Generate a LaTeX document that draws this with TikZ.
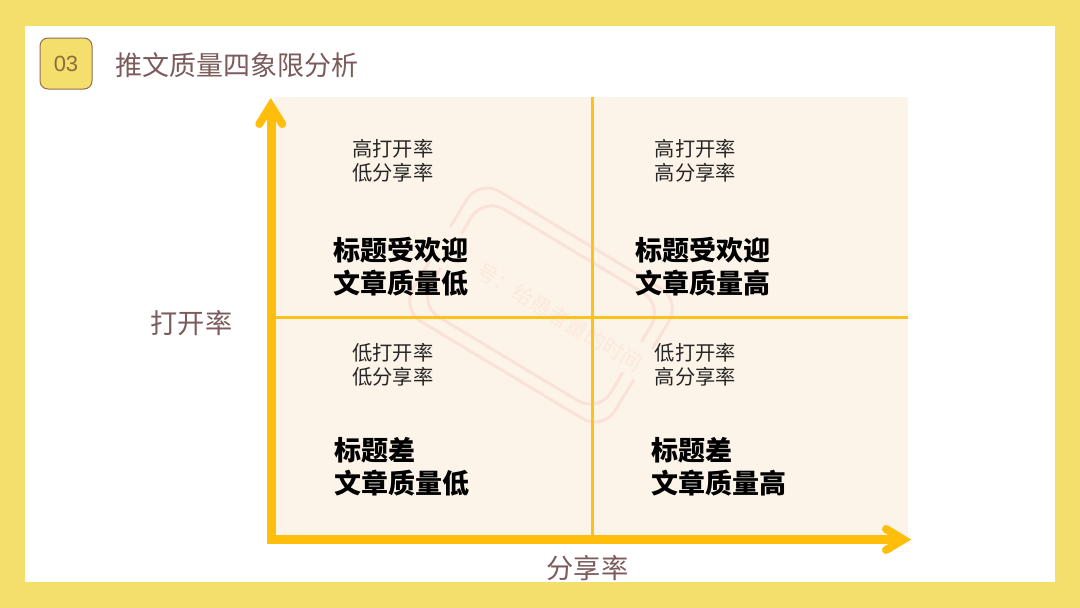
\documentclass[tikz,border=0pt]{standalone}
\usepackage{fontspec}
\setmainfont{Noto Sans CJK SC}
\setsansfont{Liberation Sans}
\definecolor{bgyellow}{HTML}{F4DE6C}
\definecolor{panel}{HTML}{FDF4E9}
\definecolor{axisc}{HTML}{FFBE0B}
\definecolor{gridc}{HTML}{FBC21C}
\definecolor{brown}{HTML}{7B5B5B}
\definecolor{numc}{HTML}{8C6D3A}
\definecolor{boxline}{HTML}{8F6F50}
\definecolor{wm}{HTML}{FBE2D8}
\definecolor{wmt}{HTML}{FBE9DE}
\tikzset{
  ax/.style={draw=axisc,line width=8.4pt},
  headc/.style={draw=axisc,line width=8pt,line cap=round,miter limit=10},
  gridl/.style={draw=gridc,line width=3.4pt},
  small/.style={anchor=west,align=left,inner sep=0pt,text=black!85,font=\fontsize{20.3}{24}\selectfont},
  big/.style={anchor=west,align=left,inner sep=0pt,text=black,font=\fontsize{27}{33}\selectfont\bfseries},
  label/.style={inner sep=0pt,text=brown,font=\fontsize{27.2}{32}\selectfont},
  wmline/.style={draw=wm,line width=3pt,rounded corners=24pt},
}
\begin{document}
\begin{tikzpicture}[x=1pt,y=-1pt]
\useasboundingbox (0,0) rectangle (1080,608);
\fill[bgyellow] (0,0) rectangle (1080,608);
\fill[white] (25,26) rectangle (1055,582);
\fill[panel] (275,97) rectangle (908,536);
% watermark
\begin{scope}[shift={(541,305)},rotate=-31]
  \draw[wmline] (-118,-20) -- (-118,-76) -- (118,-76) -- (118,-20);
  \draw[wmline] (118,16) -- (118,76) -- (-118,76) -- (-118,20);
  \draw[wmline] (-105,-20) -- (-105,-63) -- (105,-63) -- (105,-20);
  \draw[wmline] (105,16) -- (105,63) -- (-105,63) -- (-105,20);
\end{scope}
\node[rotate=-31,inner sep=0pt,text=wmt,font=\fontsize{21}{24}\selectfont] (wmtext) at (560,317) {号：给愚者量的时间};
% grid
\coordinate (gt) at (592.3,97);
\coordinate (gb) at (592.3,536);
\coordinate (gl) at (275,317.6);
\coordinate (gr) at (908,317.6);
\draw[gridl] (gt) -- (gb);
\draw[gridl] (gl) -- (gr);
% axes
\coordinate (o) at (271.5,539.5);
\coordinate (ytip) at (270.8,105.5);
\coordinate (xtip) at (903.5,539.5);
\coordinate (ywl) at (259.3,124);
\coordinate (ywr) at (282.3,124);
\coordinate (xwt) at (886,529);
\coordinate (xwb) at (886,550);
\draw[ax,line join=miter] (o |- ytip) -- (o) -- (xtip);
\draw[headc] (ywl) -- (ytip) -- (ywr);
\draw[headc] (xwt) -- (xtip) -- (xwb);
% header
\node[draw=boxline,fill=bgyellow,line width=1pt,rounded corners=8pt,minimum width=52pt,minimum height=51pt,inner sep=0pt,text=numc,font=\sffamily\fontsize{22}{26}\selectfont] (num) at (66,63.5) {03};
\node[anchor=west,inner sep=0pt,text=brown,font=\fontsize{27}{32}\selectfont] (title) at (115,65) {推文质量四象限分析};
% axis labels
\node[label] (ylab) at (191.5,323.5) {打开率};
\node[label] (xlab) at (587.5,568) {分享率};
% quadrants
\node[small] (q1s) at (352,160.5) {高打开率\\低分享率};
\node[big] (q1b) at (333,266.5) {标题受欢迎\\文章质量低};
\node[small] (q2s) at (654.5,160.5) {高打开率\\高分享率};
\node[big] (q2b) at (635,266.5) {标题受欢迎\\文章质量高};
\node[small] (q3s) at (352,364.5) {低打开率\\低分享率};
\node[big] (q3b) at (334,467) {标题差\\文章质量低};
\node[small] (q4s) at (654.5,364.5) {低打开率\\高分享率};
\node[big] (q4b) at (651,467) {标题差\\文章质量高};
\end{tikzpicture}
\end{document}
